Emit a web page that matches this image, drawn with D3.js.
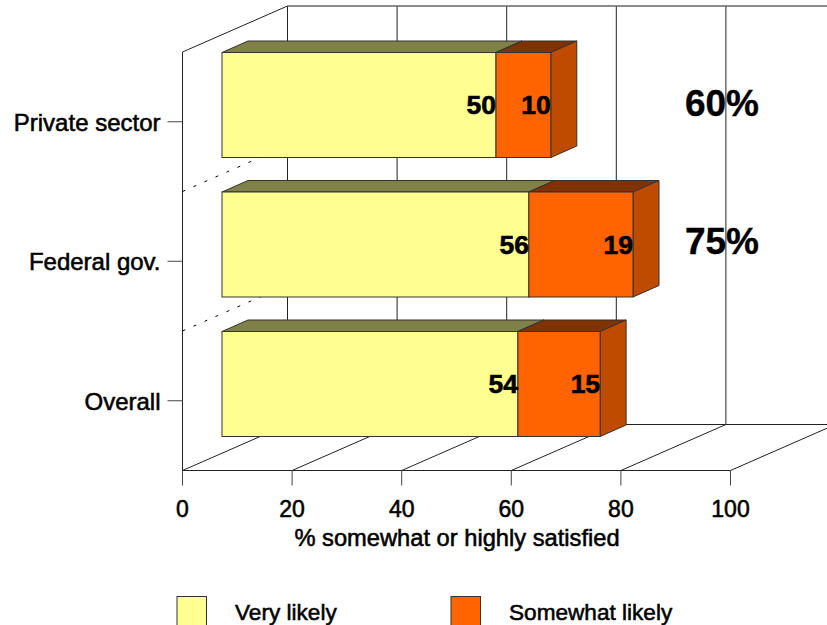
<!DOCTYPE html>
<html>
<head>
<meta charset="utf-8">
<script src="https://cdn.jsdelivr.net/npm/d3@7"></script>
<style>
html, body { margin: 0; padding: 0; background: #fff; }
svg { display: block; }
text { font-family: "Liberation Sans", Arial, sans-serif; fill: #000; }
</style>
</head>
<body>
<svg id="chart" width="827" height="625"></svg>
<script>
const categories = ["Private sector", "Federal gov.", "Overall"];
const veryLikely = [50, 56, 54];
const somewhatLikely = [10, 19, 15];
const totals = ["60%", "75%"];
const xTicks = [0, 20, 40, 60, 80, 100];
const seriesNames = ["Very likely", "Somewhat likely"];
const seriesColors = ["#ffff91", "#ff6400"];

const svg = d3.select("#chart");

// Oblique projection: the floor recedes up and to the right.
const x = d3.scaleLinear().domain([0, 100]).range([182.5, 730.5]);
const wallDepth = { dx: 105, dy: -46 };
const barInset = { dx: 39.5, dy: -34 };
const barDepth = { dx: 26, dy: -11.5 };
const floorY = 470.5;
const wallTop = 52;

const y = d3.scaleBand().domain(categories).range([wallTop, floorY]).paddingInner(0).paddingOuter(0);
const barHeight = 105;
const barFront = i => y(categories[i]) + y.bandwidth() + barInset.dy - barHeight;

const lineColor = "#222";
const grid = svg.append("g").attr("fill", "none").attr("stroke", lineColor).attr("stroke-width", 1);

// Back wall and its gridlines
grid.selectAll("line.wall").data(xTicks).join("line")
  .attr("class", "wall")
  .attr("x1", d => x(d) + wallDepth.dx).attr("x2", d => x(d) + wallDepth.dx)
  .attr("y1", wallTop + wallDepth.dy).attr("y2", floorY + wallDepth.dy);

grid.append("line")
  .attr("x1", x(0) + wallDepth.dx).attr("x2", 827)
  .attr("y1", wallTop + wallDepth.dy).attr("y2", wallTop + wallDepth.dy)
  .attr("stroke", "#666").attr("stroke-width", 1.5);
grid.append("line")
  .attr("x1", x(0) + wallDepth.dx).attr("x2", 827)
  .attr("y1", floorY + wallDepth.dy).attr("y2", floorY + wallDepth.dy);

// Left wall
grid.append("line")
  .attr("x1", x(0)).attr("x2", x(0))
  .attr("y1", wallTop).attr("y2", floorY);
grid.append("line")
  .attr("x1", x(0)).attr("x2", x(0) + wallDepth.dx)
  .attr("y1", wallTop).attr("y2", wallTop + wallDepth.dy);

// Floor: front edge and receding lines
grid.append("line")
  .attr("x1", x(0)).attr("x2", x(100))
  .attr("y1", floorY).attr("y2", floorY);
grid.selectAll("line.floor").data(xTicks).join("line")
  .attr("class", "floor")
  .attr("x1", d => x(d)).attr("x2", d => x(d) + wallDepth.dx)
  .attr("y1", floorY).attr("y2", floorY + wallDepth.dy);

// Dashed separators on the left wall between categories
grid.selectAll("line.sep").data(categories.slice(1)).join("line")
  .attr("class", "sep")
  .attr("x1", x(0)).attr("x2", x(0) + wallDepth.dx)
  .attr("y1", d => y(d)).attr("y2", d => y(d) + wallDepth.dy)
  .attr("stroke", "#000")
  .attr("stroke-dasharray", "3 9");

// Axis ticks
grid.selectAll("line.xtick").data(xTicks).join("line")
  .attr("class", "xtick")
  .attr("x1", d => x(d)).attr("x2", d => x(d))
  .attr("y1", floorY).attr("y2", floorY + 15)
  .attr("stroke", "#444");
grid.selectAll("line.ytick").data(categories).join("line")
  .attr("class", "ytick")
  .attr("x1", x(0) - 15).attr("x2", x(0))
  .attr("y1", d => y(d) + y.bandwidth() / 2).attr("y2", d => y(d) + y.bandwidth() / 2)
  .attr("stroke", "#444");

const labelStroke = sel => sel.attr("stroke", "#000").attr("stroke-width", 0.55);

svg.append("g").selectAll("text").data(xTicks).join("text")
  .attr("x", d => x(d)).attr("y", 517)
  .attr("text-anchor", "middle").attr("font-size", 23)
  .text(d => d).call(labelStroke);

svg.append("g").selectAll("text").data(categories).join("text")
  .attr("x", 160.5).attr("y", d => y(d) + y.bandwidth() / 2 + 9)
  .attr("text-anchor", "end").attr("font-size", 24)
  .text(d => d).call(labelStroke);

svg.append("text")
  .attr("x", 457).attr("y", 546)
  .attr("text-anchor", "middle").attr("font-size", 23.7)
  .text("% somewhat or highly satisfied").call(labelStroke);

// Draws one stacked 3D segment: top and side faces, then the front
const bars = svg.append("g");
const px = v => x(v) + barInset.dx;
const edge = "#333";

categories.forEach((cat, i) => {
  const top = barFront(i);
  const segs = [
    { from: 0, to: veryLikely[i], color: seriesColors[0] },
    { from: veryLikely[i], to: veryLikely[i] + somewhatLikely[i], color: seriesColors[1] }
  ];
  segs.forEach(s => {
    const xa = px(s.from), xb = px(s.to);
    const quad = pts => pts.map(p => p.join(",")).join(" ");
    const c = d3.color(s.color);
    bars.append("polygon")
      .attr("points", quad([[xa, top], [xb, top], [xb + barDepth.dx, top + barDepth.dy], [xa + barDepth.dx, top + barDepth.dy]]))
      .attr("fill", d3.rgb(c.r / 2, c.g / 2, c.b / 2).formatHex())
      .attr("stroke", edge);
    bars.append("polygon")
      .attr("points", quad([[xb, top], [xb + barDepth.dx, top + barDepth.dy], [xb + barDepth.dx, top + barHeight + barDepth.dy], [xb, top + barHeight]]))
      .attr("fill", d3.rgb(c.r * 0.75, c.g * 0.75, c.b * 0.75).formatHex())
      .attr("stroke", edge);
  });
  segs.forEach(s => {
    bars.append("rect")
      .attr("x", px(s.from)).attr("y", top)
      .attr("width", px(s.to) - px(s.from)).attr("height", barHeight)
      .attr("fill", s.color).attr("stroke", edge);
  });
  segs.forEach(s => {
    bars.append("text")
      .attr("x", px(s.to)).attr("y", top + barHeight / 2 + 9)
      .attr("text-anchor", "end")
      .attr("font-size", 26.5).attr("font-weight", "bold")
      .attr("stroke", "#000").attr("stroke-width", 0.6)
      .text(s.to - s.from);
  });
});

// Totals printed to the right of the bars, sitting slightly above each bar's centre
svg.append("g").selectAll("text").data(totals).join("text")
  .attr("x", 722).attr("y", (d, i) => barFront(i) + barHeight / 2 + 11 - i * 2)
  .attr("text-anchor", "middle")
  .attr("font-size", 37).attr("font-weight", "bold")
  .attr("stroke", "#000").attr("stroke-width", 0.4)
  .text(d => d);

// Legend
const legendX = [176.5, 450.5];
const legend = svg.append("g").selectAll("g").data(seriesNames).join("g")
  .attr("transform", (d, i) => `translate(${legendX[i]},596)`);
legend.append("rect")
  .attr("x", 0.5).attr("y", 0.5).attr("width", 29.5).attr("height", 40)
  .attr("fill", (d, i) => seriesColors[i]).attr("stroke", edge);
legend.append("text")
  .attr("x", 58.5).attr("y", 24).attr("font-size", 22.6)
  .text(d => d).call(labelStroke);
</script>
</body>
</html>
